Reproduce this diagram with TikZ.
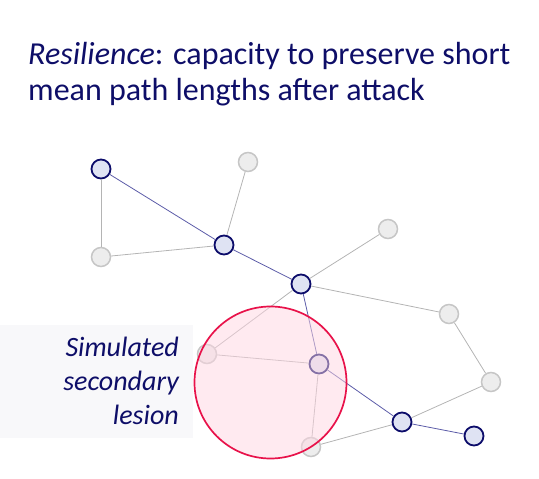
\documentclass[tikz,border=0pt]{standalone}
\usepackage{fontspec}
\setmainfont{Carlito}
\usetikzlibrary{positioning}
\definecolor{navytext}{HTML}{0E0E68}
\definecolor{hubline}{HTML}{0C0C6A}
\definecolor{hubfill}{HTML}{DFE3F3}
\definecolor{pathblue}{HTML}{5C5CA8}
\definecolor{greyline}{HTML}{B4B4B4}
\definecolor{greyfill}{HTML}{EDEDED}
\definecolor{greyring}{HTML}{C6C6C6}
\definecolor{lesionred}{HTML}{E8124A}
\definecolor{lesionfill}{HTML}{FFD6E2}
\definecolor{panelgrey}{HTML}{F8F8FA}
\tikzset{
  hub/.style        = {circle, draw=hubline, fill=hubfill, line width=1.8pt,
                       minimum size=19pt, inner sep=0pt},
  spare/.style      = {circle, draw=greyring, fill=greyfill, line width=1.5pt,
                       minimum size=19pt, inner sep=0pt},
  shortpath/.style  = {draw=pathblue, line width=0.8pt},
  link/.style       = {draw=greyline, line width=0.8pt},
  lesion/.style     = {circle, draw=lesionred, line width=1.7pt,
                       fill=lesionfill, fill opacity=0.5,
                       minimum size=152pt, inner sep=0pt},
  heading/.style    = {font=\fontsize{32}{36}\selectfont, text=navytext,
                       align=left, inner sep=0pt},
  note/.style       = {font=\fontsize{28}{34}\selectfont\itshape, text=navytext,
                       align=right, inner sep=0pt}
}
\begin{document}
\begin{tikzpicture}[x=1pt, y=-1pt]
  \useasboundingbox (0,0) rectangle (539,479);

  % Title (base anchor sits on the last line)
  \node[heading, anchor=base west] (title) at (28,100)
    {\textit{Resilience}: capacity to preserve short\\mean path lengths after attack};

  % Panel behind the lesion label
  \fill[panelgrey] (0,325) rectangle (193,438);
  \node[note, anchor=base east] (label) at (179,424)
    {Simulated\\secondary\\lesion};

  % Network nodes (hub = on the shortest path, spare = others)
  \node[hub]   (a) at (101,169) {};
  \node[spare] (b) at (248,162) {};
  \node[spare] (c) at (101,257) {};
  \node[hub]   (d) at (224,245) {};
  \node[spare] (e) at (388,229) {};
  \node[hub]   (f) at (301,284) {};
  \node[spare] (g) at (449,314) {};
  \node[spare] (h) at (207,354) {};
  \node[hub]   (i) at (319,364) {};
  \node[spare] (j) at (491,382) {};
  \node[hub]   (k) at (402,422) {};
  \node[hub]   (l) at (474,436) {};
  \node[spare] (m) at (311,447) {};

  % Shortest path
  \draw[shortpath] (a) -- (d);
  \draw[shortpath] (d) -- (f);
  \draw[shortpath] (f) -- (i);
  \draw[shortpath] (i) -- (k);
  \draw[shortpath] (k) -- (l);

  % Other links
  \draw[link] (a) -- (c);
  \draw[link] (c) -- (d);
  \draw[link] (d) -- (b);
  \draw[link] (f) -- (e);
  \draw[link] (f) -- (g);
  \draw[link] (f) -- (h);
  \draw[link] (h) -- (i);
  \draw[link] (i) -- (m);
  \draw[link] (m) -- (k);
  \draw[link] (k) -- (j);
  \draw[link] (j) -- (g);

  % Lesion
  \node[lesion] (les) at (270.5,382.5) {};
\end{tikzpicture}
\end{document}
